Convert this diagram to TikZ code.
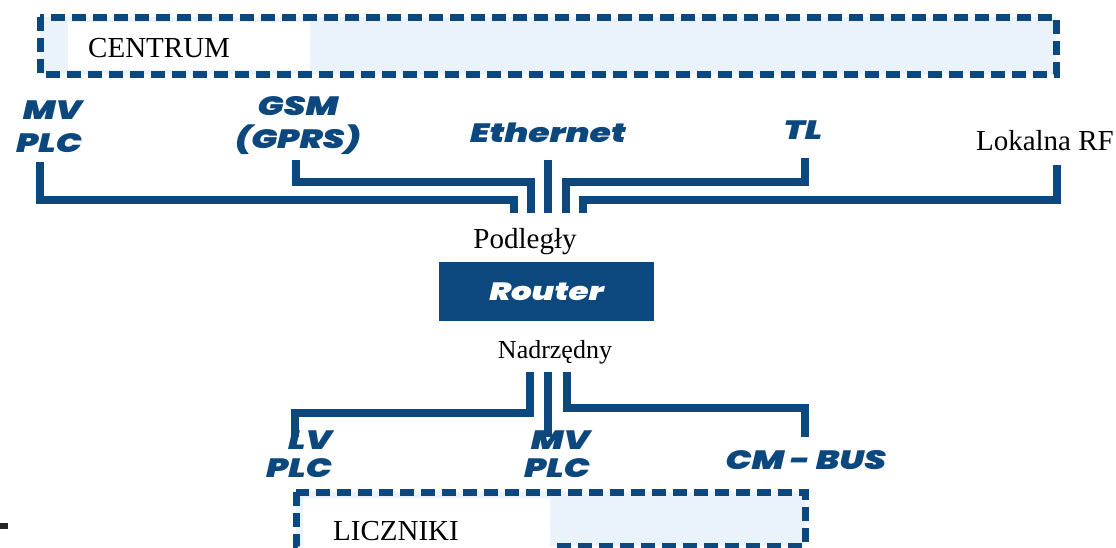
\documentclass[tikz,border=0pt]{standalone}
\usepackage{fontspec}
\setmainfont{Liberation Serif}
\newfontfamily\heavy{Poppins Black Italic}[FakeStretch=1.3]
\definecolor{nblue}{RGB}{12,72,126}
\definecolor{lblue}{RGB}{234,243,251}
\tikzset{
  conn/.style={draw=nblue, line width=7.5pt},
  dashbox/.style={draw=nblue, line width=7pt, dash pattern=on 14pt off 7pt},
  lab/.style={font=\heavy\fontsize{26.5}{33}\selectfont, text=nblue, inner sep=0pt},
  labb/.style={font=\heavy\fontsize{26.5}{28}\selectfont, text=nblue, inner sep=0pt},
  serif/.style={font=\fontsize{29}{32}\selectfont, inner sep=0pt},
  routerbox/.style={fill=nblue, minimum width=215pt, minimum height=59pt, inner sep=0pt,
    font=\heavy\fontsize{25}{28}\selectfont, text=white}
}
\begin{document}
\begin{tikzpicture}[x=1pt,y=-1pt]
\useasboundingbox (0,0) rectangle (1116,547);
% top box
\fill[lblue] (40,17) rectangle (1056,74);
\fill[white] (68,22) rectangle (310,70);
\draw[dashbox] (40,17) rectangle (1056,74);
\node[serif, anchor=base west] (centrum) at (88,57) {CENTRUM};
% bottom box
\fill[lblue] (296,492) rectangle (805,546);
\draw[dashbox] (296,492) rectangle (805,546);
\fill[white] (303,498) rectangle (550,550);
\node[serif, anchor=base west] (liczniki) at (333,540) {LICZNIKI};
% small mark
\fill[black!85] (0,523) rectangle (8,529);
% top labels
\node[lab, align=right, anchor=south east] (mvplc) at (82,153) {MV\\PLC};
\node[lab, align=center, anchor=south] (gsm) at (298,155) {GSM\\(GPRS)};
\node[lab, anchor=south] (eth) at (548,143) {Ethernet};
\node[lab, anchor=south] (tl) at (803,140) {TL};
\node[serif, anchor=base east] (lok) at (1114,150) {Lokalna RF};
% router
\node[serif, anchor=base] (podl) at (525,248) {Podległy};
\node[routerbox] (router) at (546.5,291.5) {Router};
\node[serif, font=\fontsize{26}{28}\selectfont, anchor=base] (nadr) at (555,358) {Nadrzędny};
% top connectors
\coordinate (t1) at (40,162);
\coordinate (t2) at (296,160);
\coordinate (t3) at (548,160);
\coordinate (t4) at (805,158);
\coordinate (t5) at (1057,165);
\coordinate (p1) at (514,213);
\coordinate (p2) at (531,213);
\coordinate (p3) at (548,213);
\coordinate (p4) at (566,213);
\coordinate (p5) at (583,213);
\draw[conn] (t1) |- (p1 |- 0,200) -- (p1);
\draw[conn] (t2) |- (p2 |- 0,182) -- (p2);
\draw[conn] (t3) -- (p3);
\draw[conn] (t4) |- (p4 |- 0,182) -- (p4);
\draw[conn] (t5) |- (p5 |- 0,200) -- (p5);
% bottom labels
\node[labb, align=right, anchor=south east] (lvplc) at (332,478) {LV\\PLC};
\node[labb, align=right, anchor=south east] (mvplcb) at (590,478) {MV\\PLC};
\node[labb, anchor=south] (cmbus) at (806,470) {CM - BUS};
% bottom connectors
\coordinate (n1) at (530,372);
\coordinate (n2) at (548,372);
\coordinate (n3) at (567,372);
\coordinate (b1) at (295,437);
\coordinate (b2) at (548,437);
\coordinate (b3) at (805,437);
\draw[conn] (n1) |- (b1 |- 0,413) -- (b1);
\draw[conn] (n2) -- (b2);
\draw[conn] (n3) |- (b3 |- 0,408) -- (b3);
\end{tikzpicture}
\end{document}
